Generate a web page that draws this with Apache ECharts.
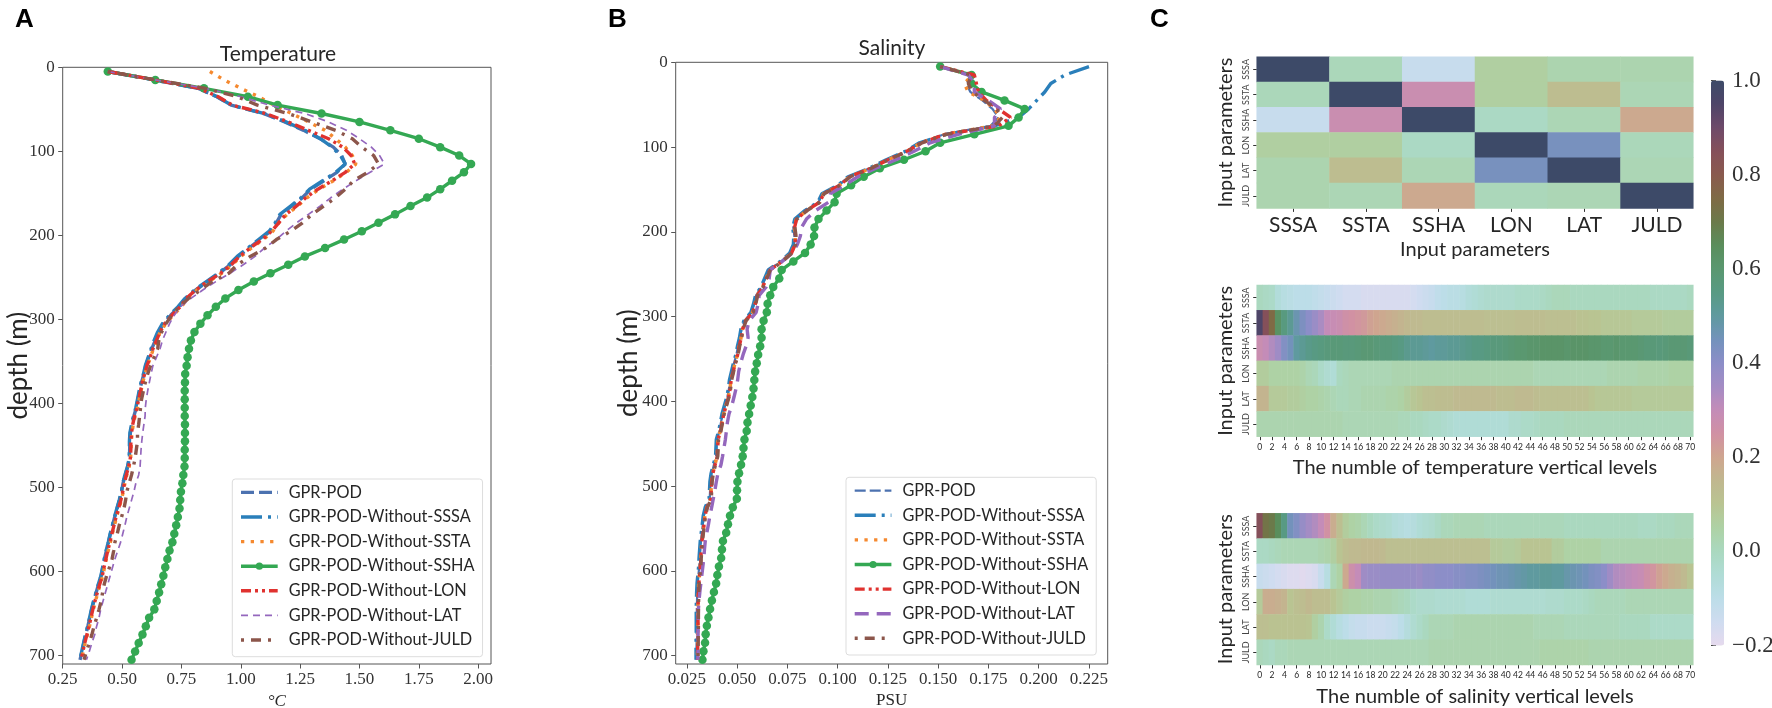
<!DOCTYPE html>
<html>
<head>
<meta charset="utf-8">
<style>html,body{margin:0;padding:0;background:#fff}#c{width:1772px;height:708px}</style>
<script src="https://cdn.jsdelivr.net/npm/echarts@6/dist/echarts.min.js"></script>
</head>
<body>
<div id="c"></div>
<script>
// ---- data ----
const seriesNames = ['GPR-POD','GPR-POD-Without-SSSA','GPR-POD-Without-SSTA','GPR-POD-Without-SSHA','GPR-POD-Without-LON','GPR-POD-Without-LAT','GPR-POD-Without-JULD'];
const depthLevels = [5,15,25,35,45,55,65,75,85,95,105,115,125,135,145,155,165,175,185,195,205,215,225,235,245,255,265,275,285,295,305,315,325,335,345,355,365,375,385,395,405,415,425,435,445,455,465,475,485,495,505,515,525,535,545,555,565,575,585,595,605,615,625,635,645,655,665,675,685,695,705];
const params = ['SSSA','SSTA','SSHA','LON','LAT','JULD'];
const levelLabels = [0,1,2,3,4,5,6,7,8,9,10,11,12,13,14,15,16,17,18,19,20,21,22,23,24,25,26,27,28,29,30,31,32,33,34,35,36,37,38,39,40,41,42,43,44,45,46,47,48,49,50,51,52,53,54,55,56,57,58,59,60,61,62,63,64,65,66,67,68,69,70];

const tempPOD  = [.44,.635,.82,.90,.96,1.095,1.185,1.265,1.335,1.39,1.425,1.44,1.405,1.35,1.295,1.26,1.215,1.17,1.15,1.125,1.08,1.035,.99,.955,.91,.86,.81,.77,.74,.705,.675,.655,.64,.625,.612,.6,.592,.582,.574,.567,.56,.55,.542,.535,.533,.532,.531,.524,.513,.504,.498,.489,.479,.469,.46,.451,.443,.434,.426,.419,.412,.401,.391,.381,.372,.364,.356,.347,.339,.331,.323];
const tempSSSA = [.44,.635,.82,.90,.96,1.10,1.19,1.27,1.335,1.385,1.42,1.44,1.40,1.345,1.29,1.255,1.21,1.165,1.145,1.12,1.075,1.03,.985,.95,.905,.855,.805,.765,.735,.70,.67,.65,.635,.622,.61,.598,.59,.58,.572,.565,.558,.548,.54,.533,.531,.531,.53,.523,.512,.503,.497,.488,.478,.468,.459,.45,.442,.433,.425,.418,.411,.40,.39,.38,.371,.363,.355,.346,.338,.33,.322];
const tempSSTA = [.87,.93,1.0,1.075,1.14,1.215,1.285,1.355,1.40,1.44,1.47,1.485,1.445,1.39,1.33,1.28,1.24,1.195,1.16,1.135,1.095,1.045,1.0,.965,.92,.865,.815,.775,.75,.715,.685,.66,.648,.632,.62,.607,.597,.587,.58,.572,.565,.555,.547,.542,.539,.538,.536,.53,.52,.512,.505,.497,.487,.477,.468,.459,.451,.442,.434,.426,.419,.408,.398,.388,.379,.371,.363,.354,.345,.337,.329];
const tempSSHA = [.44,.64,.845,1.03,1.155,1.34,1.50,1.63,1.75,1.84,1.92,1.97,1.94,1.89,1.84,1.785,1.715,1.65,1.58,1.51,1.435,1.355,1.27,1.20,1.125,1.055,.99,.935,.895,.86,.83,.805,.79,.782,.776,.772,.766,.765,.764,.764,.764,.764,.765,.765,.765,.764,.764,.763,.758,.754,.748,.745,.742,.735,.728,.72,.712,.70,.691,.682,.674,.665,.656,.646,.636,.614,.60,.586,.57,.555,.54];
const tempLON  = [.44,.64,.825,.905,.965,1.105,1.20,1.285,1.37,1.43,1.465,1.48,1.44,1.385,1.325,1.275,1.235,1.19,1.16,1.13,1.09,1.04,.995,.96,.915,.86,.81,.77,.745,.71,.68,.66,.645,.63,.618,.605,.595,.585,.578,.57,.563,.553,.545,.54,.537,.537,.535,.528,.518,.51,.503,.495,.485,.475,.466,.457,.449,.44,.432,.424,.417,.406,.396,.386,.377,.369,.361,.352,.343,.335,.327];
const tempLAT  = [.44,.64,.85,1.0,1.12,1.27,1.37,1.445,1.50,1.55,1.585,1.605,1.545,1.485,1.43,1.38,1.335,1.285,1.235,1.19,1.15,1.10,1.06,1.01,.955,.895,.84,.79,.745,.72,.70,.685,.67,.66,.645,.63,.622,.615,.608,.602,.598,.597,.592,.587,.583,.58,.578,.576,.57,.558,.55,.54,.53,.52,.512,.503,.494,.482,.47,.46,.45,.44,.43,.42,.41,.403,.393,.385,.373,.362,.35];
const tempJULD = [.44,.64,.85,.985,1.07,1.20,1.30,1.40,1.47,1.51,1.56,1.58,1.535,1.475,1.44,1.40,1.35,1.30,1.26,1.21,1.15,1.105,1.04,.985,.95,.88,.83,.78,.74,.71,.685,.667,.655,.65,.635,.62,.608,.598,.59,.582,.578,.574,.57,.565,.565,.56,.555,.548,.54,.53,.52,.515,.508,.498,.488,.48,.47,.465,.458,.447,.435,.425,.418,.412,.403,.393,.382,.373,.362,.35,.34];

const salPOD  = [.151,.1665,.164,.166,.172,.177,.18,.176,.153,.141,.134,.1245,.116,.1055,.1005,.0925,.0905,.084,.079,.078,.0785,.0783,.0765,.0718,.0658,.064,.0622,.0595,.0585,.0572,.0537,.0522,.0515,.0505,.0497,.0485,.0475,.0465,.046,.0452,.044,.0428,.042,.0412,.04,.0398,.0396,.0385,.0374,.0368,.0366,.0364,.0345,.0335,.033,.0325,.032,.0317,.0314,.0312,.0308,.0304,.0302,.0301,.03,.03,.03,.0299,.0299,.0298,.0298];
const salSSSA = [.225,.213,.206,.203,.199,.195,.19,.178,.154,.1407,.1337,.1242,.1157,.1052,.1002,.0922,.0902,.0837,.0787,.0777,.0782,.078,.0762,.0715,.0655,.0637,.0619,.0592,.0582,.0569,.0534,.0519,.0512,.0502,.0494,.0482,.0472,.0462,.0457,.0449,.0437,.0425,.0417,.0409,.0397,.0395,.0393,.0382,.0371,.0365,.0363,.0361,.0342,.0332,.0327,.0322,.0317,.0314,.0311,.0309,.0305,.0301,.0299,.0298,.0297,.0297,.0297,.0297,.0296,.0296,.0296];
const salSSTA = [.151,.167,.163,.165,.173,.178,.181,.177,.1535,.1415,.1345,.125,.1165,.106,.101,.093,.091,.0845,.0795,.0785,.079,.0788,.077,.0723,.0663,.0645,.0627,.06,.059,.0577,.0542,.0527,.052,.051,.0502,.049,.048,.047,.0465,.0457,.0445,.0433,.0425,.0417,.0405,.0403,.0401,.039,.0379,.0373,.0371,.0369,.035,.034,.0335,.033,.0325,.0322,.0319,.0317,.0313,.0309,.0307,.0306,.0305,.0305,.0305,.0304,.0304,.0303,.0303];
const salSSHA = [.151,.1666,.1666,.1716,.183,.193,.19,.185,.168,.151,.1437,.133,.121,.113,.1067,.0995,.0985,.0945,.0905,.0885,.0883,.0866,.0838,.078,.0722,.071,.068,.0665,.0652,.0648,.0632,.0622,.0622,.0615,.0605,.0598,.059,.0586,.0582,.0576,.0568,.056,.0552,.0548,.0537,.0532,.0528,.052,.051,.0502,.05,.0499,.0479,.0465,.0455,.0446,.043,.0425,.0421,.041,.0402,.0396,.0385,.0375,.0366,.0358,.035,.0344,.0341,.0333,.0328];
const salLON  = [.151,.168,.169,.17,.174,.18,.186,.18,.1536,.1416,.1346,.1251,.1166,.1061,.1011,.0931,.0911,.0846,.0796,.0786,.0791,.0789,.0771,.0724,.0664,.0646,.0628,.0601,.0591,.0578,.0543,.0528,.0521,.0511,.0503,.0491,.0481,.0471,.0466,.0458,.0446,.0434,.0426,.0418,.0406,.0404,.0402,.0391,.038,.0374,.0372,.037,.0351,.0341,.0336,.0331,.0326,.0323,.032,.0318,.0314,.031,.0308,.0307,.0306,.0306,.0306,.0305,.0305,.0304,.0304];
const salLAT  = [.151,.165,.168,.168,.175,.181,.178,.178,.16,.146,.138,.129,.119,.11,.1035,.0965,.0955,.089,.0845,.082,.0815,.08,.0775,.0725,.0665,.066,.0645,.061,.0605,.0595,.056,.055,.0555,.0545,.053,.0518,.0508,.0503,.0495,.0485,.0474,.046,.0452,.0447,.0442,.0435,.0428,.042,.0405,.0397,.039,.0382,.0374,.0365,.0358,.035,.0342,.0338,.0335,.033,.0325,.032,.0315,.0311,.0308,.0307,.0306,.0306,.0306,.0306,.0305];
const salJULD = [.151,.1665,.165,.167,.173,.179,.182,.178,.154,.142,.135,.1253,.1168,.1063,.1013,.0933,.0913,.0848,.0798,.0788,.0793,.0791,.0773,.0726,.0666,.0648,.063,.0603,.0593,.058,.0545,.053,.0523,.0513,.0505,.0493,.0483,.0473,.0468,.046,.0448,.0436,.0428,.042,.0408,.0406,.0404,.0393,.0382,.0376,.0374,.0372,.0353,.0343,.0338,.0333,.0328,.0325,.0322,.032,.0316,.0312,.031,.0309,.0308,.0308,.0308,.0307,.0307,.0306,.0306];

const corrSSSA = [1,.01,-.13,.06,.03,.03];
const corrSSTA = [.01,1,.28,.06,.13,.02];
const corrSSHA = [-.13,.28,1,-.01,.02,.19];
const corrLON  = [.06,.06,-.01,1,.44,.01];
const corrLAT  = [.03,.13,.02,.44,1,.02];
const corrJULD = [.03,.02,.19,.01,.02,1];

const tSSSA = [.0,-.01,-.02,-.06,-.08,-.09,-.10,-.10,-.10,-.11,-.12,-.13,-.14,-.15,-.16,-.16,-.16,-.17,-.17,-.17,-.17,-.17,-.17,-.17,-.17,-.16,-.15,-.14,-.13,-.11,-.10,-.09,-.09,-.08,-.06,-.05,-.04,-.03,-.03,-.03,-.03,-.03,-.02,-.02,-.02,-.02,-.01,.0,.01,.01,.01,.0,.0,.0,.0,.0,.0,.0,.0,.0,.0,.0,.0,.0,-.01,-.01,-.01,-.01,-.01,-.01,.0];
const tSSTA = [.95,.85,.75,.63,.56,.52,.47,.43,.40,.37,.34,.30,.29,.28,.26,.25,.24,.23,.21,.20,.19,.18,.17,.16,.15,.14,.14,.13,.13,.13,.13,.13,.13,.13,.13,.13,.13,.12,.12,.12,.12,.12,.13,.13,.13,.13,.13,.12,.12,.12,.12,.12,.11,.11,.10,.10,.09,.09,.09,.09,.09,.08,.08,.08,.08,.08,.07,.07,.07,.07,.07];
const tSSHA = [.28,.30,.33,.36,.42,.45,.50,.52,.54,.55,.56,.57,.58,.58,.57,.57,.58,.59,.59,.58,.57,.57,.56,.55,.53,.52,.52,.51,.50,.51,.51,.52,.52,.53,.54,.55,.55,.56,.57,.57,.58,.59,.60,.60,.61,.61,.62,.62,.62,.62,.61,.62,.62,.62,.61,.61,.60,.60,.61,.60,.60,.60,.59,.58,.58,.57,.58,.59,.59,.59,.58];
const tLON  = [.07,.07,.05,.05,.05,.05,.05,.04,.02,.01,-.02,-.04,-.05,.0,.01,.02,.02,.02,.02,.02,.02,.02,.03,.03,.03,.03,.03,.03,.03,.03,.03,.03,.03,.03,.03,.03,.03,.03,.03,.03,.03,.03,.03,.03,.03,.02,.02,.02,.02,.02,.02,.02,.02,.02,.02,.02,.02,.03,.03,.03,.03,.03,.04,.04,.04,.04,.04,.05,.05,.05,.05];
const tLAT  = [.16,.16,.08,.08,.08,.07,.07,.06,.05,.05,.04,.03,.02,.01,.01,.02,.02,.03,.03,.03,.03,.04,.04,.05,.07,.09,.10,.12,.12,.13,.13,.13,.14,.14,.14,.14,.14,.14,.14,.13,.13,.13,.14,.14,.14,.13,.12,.12,.12,.12,.12,.12,.12,.12,.10,.09,.09,.09,.09,.09,.09,.08,.08,.08,.08,.08,.08,.08,.08,.08,.08];
const tJULD = [.03,.03,.03,.03,.03,.03,.03,.03,.03,.03,.03,.03,.03,.03,.02,.02,.02,.02,.02,.02,.02,.02,.02,.01,.01,.0,.0,-.01,-.02,-.02,-.03,-.04,-.05,-.05,-.05,-.05,-.05,-.05,-.05,-.05,-.05,-.03,-.03,-.02,-.02,-.01,.0,.0,.0,.0,.01,.01,.01,.01,.01,.01,.01,.01,.01,.01,.01,.01,.01,.01,.01,.01,.01,.01,.01,.01,.01];

const sSSSA = [.85,.72,.70,.65,.55,.45,.42,.38,.35,.33,.30,.25,.18,.12,.07,.05,.04,.02,.0,-.02,-.03,-.04,-.06,-.07,-.08,-.07,-.05,-.04,-.03,-.01,.01,.01,.02,.02,.02,.02,.02,.01,.01,.01,.01,.01,.01,.01,.01,.01,.01,.01,.01,.01,.0,.0,.0,.0,.0,.0,.0,.0,.0,.0,.0,.0,-.01,-.01,-.01,.0,.0,.0,.01,.01,.01];
const sSSTA = [-.01,-.01,.0,.01,.02,.02,.02,.02,.02,.02,.03,.04,.06,.10,.13,.14,.14,.15,.15,.15,.14,.12,.12,.12,.12,.12,.12,.12,.12,.12,.12,.12,.12,.12,.12,.12,.12,.12,.08,.08,.07,.07,.08,.10,.10,.10,.10,.10,.07,.07,.05,.05,.05,.05,.05,.05,.03,.03,.03,.03,.03,.03,.03,.03,.03,.03,.03,.03,.03,.03,.03];
const sSSHA = [-.13,-.14,-.15,-.16,-.17,-.18,-.18,-.19,-.18,-.17,-.13,-.08,.02,.05,.19,.27,.30,.36,.37,.37,.38,.38,.38,.38,.38,.38,.37,.39,.39,.40,.40,.40,.41,.41,.42,.42,.43,.44,.45,.46,.46,.47,.48,.49,.50,.50,.51,.51,.50,.50,.48,.47,.46,.45,.43,.42,.40,.36,.33,.32,.31,.30,.29,.26,.24,.21,.19,.17,.16,.14,.10];
const sLON  = [.08,.18,.18,.17,.16,.10,.12,.13,.15,.13,.13,.13,.10,.08,.06,.05,.05,.04,.04,.03,.03,.03,.02,.01,.0,-.02,-.03,-.03,-.03,-.04,-.04,-.04,-.04,-.04,-.05,-.05,-.05,-.05,-.04,-.04,-.04,-.04,-.04,-.04,-.04,-.04,-.04,-.03,-.03,-.03,-.02,-.02,-.02,-.01,.0,.01,.01,.01,.01,.01,.02,.02,.02,.02,.02,.02,.02,.02,.02,.02,.02];
const sLAT  = [.12,.12,.11,.11,.11,.11,.11,.11,.10,.06,.03,-.02,-.05,-.08,-.10,-.12,-.13,-.13,-.14,-.14,-.14,-.13,-.12,-.10,-.07,-.04,-.02,.0,.02,.02,.02,.02,.03,.03,.03,.03,.03,.03,.03,.03,.03,.03,.03,.03,.03,.02,.02,.02,.02,.02,.01,.01,.01,.01,.01,.01,.01,.01,.01,.0,.0,.0,.0,.0,-.02,-.02,-.02,-.02,-.02,-.02,-.02];
const sJULD = [.01,.0,-.01,.01,.01,.02,.02,.02,.02,.02,.02,.02,.02,.02,.02,.02,.02,.02,.02,.02,.02,.02,.02,.02,.02,.02,.02,.02,.03,.03,.03,.03,.03,.03,.03,.03,.03,.03,.03,.03,.03,.03,.03,.03,.03,.03,.04,.04,.04,.04,.04,.04,.04,.04,.03,.03,.03,.03,.03,.03,.03,.03,.03,.03,.03,.03,.03,.03,.03,.03,.03];

const colorStops = ['#e6daee','#cfdcf0','#bcdde8','#b0dcd6','#aad8bf','#aed2a5','#b9c492','#c0b88f','#cfa58f','#d191a3','#c48cb8','#a48cc4','#8c8ec8','#7392bb','#5f9a9f','#589a83','#5a9870','#5a8e5c','#6b7a4a','#7f6a45','#8a5a4e','#85505a','#6e4a6a','#4e4568','#3d4a68'];

// ---- chart ----
const tempTicks = [.25,.5,.75,1,1.25,1.5,1.75,2];
const salTicks = [.025,.05,.075,.1,.125,.15,.175,.2,.225];
const depthTicks = [0,100,200,300,400,500,600,700];
const serif = '"Liberation Serif"';
const sans = 'Lato';
const ink = '#262626';

const stylesT = [
 {color:'#4c72b0',width:3.4,type:[13,5]},
 {color:'#2a7fba',width:3.4,type:[21,6,3,6]},
 {color:'#f5892f',width:3.4,type:[3.3,6.4]},
 {color:'#34a853',width:3.4,type:'solid'},
 {color:'#e0322f',width:3.4,type:[10,4,3,4,3,4]},
 {color:'#9467bd',width:1.7,type:[7,5]},
 {color:'#8c564b',width:3.4,type:[3,7,10,7]}
];
const stylesS = [
 {color:'#4c72b0',width:2.2,type:[11,4]},
 {color:'#2a7fba',width:3.4,type:[21,6,3,6]},
 {color:'#f5892f',width:3.4,type:[3.3,6.4]},
 {color:'#34a853',width:3.4,type:'solid'},
 {color:'#e0322f',width:3.4,type:[10,4,3,4,3,4]},
 {color:'#9467bd',width:3.4,type:[14,8]},
 {color:'#8c564b',width:3.4,type:[3,7,10,7]}
];
const tempData = [tempPOD,tempSSSA,tempSSTA,tempSSHA,tempLON,tempLAT,tempJULD];
const salData = [salPOD,salSSSA,salSSTA,salSSHA,salLON,salLAT,salJULD];

function lineSeries(data, styles, axis){
  return data.map((vals,i)=>({
    type:'line', name:seriesNames[i], xAxisIndex:axis, yAxisIndex:axis,
    data:vals.map((v,k)=>[v,depthLevels[k]]),
    lineStyle:styles[i], itemStyle:{color:styles[i].color},
    symbol:i===3?'circle':'none', symbolSize:8.5, showSymbol:i===3,
    smooth:false, z:2+i, silent:true
  }));
}
function heatSeries(rows, axis){
  const d=[];
  rows.forEach((r,y)=>r.forEach((v,x)=>d.push([x,y,v])));
  return {type:'heatmap',xAxisIndex:axis,yAxisIndex:axis,data:d,silent:true,itemStyle:{borderWidth:0},progressive:0,z:2};
}
function legend(styles, left, top){
  return {
    orient:'vertical', left, top, padding:[4.4,8,7.7,7], itemWidth:36.7, itemHeight:9, itemGap:6.6,
    backgroundColor:'#fff', borderColor:'#ddd', borderWidth:1, borderRadius:3,
    selectedMode:false, textStyle:{fontFamily:sans,fontSize:16.3,lineHeight:18,color:ink,padding:[0,0,0,6]},
    data:seriesNames.map((n,i)=>({name:n,lineStyle:styles[i],itemStyle:{color:styles[i].color,opacity:i===3?1:0}}))
  };
}
function lineX(min,max,ticks,fmt,name,gap,grid){
  return {type:'value',gridIndex:grid,min,max,position:'bottom',name,nameLocation:'middle',nameGap:gap,nameMoveOverlap:false,
    nameTextStyle:{fontFamily:serif,fontSize:17,color:ink,fontStyle:grid===0?'italic':'normal'},
    splitLine:{show:false},axisLine:{show:false,onZero:false},
    axisTick:{show:true,length:4.5,customValues:ticks,lineStyle:{color:'#555'}},
    axisLabel:{customValues:ticks,formatter:v=>v.toFixed(fmt),fontFamily:serif,fontSize:17,color:'#333',margin:7}};
}
function lineY(grid,gap){
  return {type:'value',gridIndex:grid,inverse:true,min:0,max:710,position:'left',name:'depth (m)',nameLocation:'middle',nameGap:gap,nameRotate:90,nameMoveOverlap:false,
    nameTextStyle:{fontFamily:sans,fontSize:26,color:ink},
    splitLine:{show:false},axisLine:{show:false,onZero:false},
    axisTick:{show:true,length:4.5,customValues:depthTicks,lineStyle:{color:'#555'}},
    axisLabel:{customValues:depthTicks,fontFamily:serif,fontSize:17,color:'#333',margin:8}};
}
function heatX(cats,grid,name,gap,size,interval){
  return {type:'category',gridIndex:grid,data:cats,position:'bottom',name,nameLocation:'middle',nameGap:gap,nameMoveOverlap:false,
    nameTextStyle:{fontFamily:sans,fontSize:20,color:ink},
    axisLine:{show:false},splitLine:{show:false},
    axisTick:{show:true,alignWithLabel:true,interval,length:3.5,lineStyle:{color:'#333'}},
    axisLabel:{interval,fontFamily:sans,fontSize:size,color:ink,margin:6,hideOverlap:false}};
}
function heatY(grid){
  return {type:'category',gridIndex:grid,data:params,inverse:true,position:'left',name:'Input parameters',nameLocation:'middle',nameGap:21.5,nameRotate:90,nameMoveOverlap:false,
    nameTextStyle:{fontFamily:sans,fontSize:20,color:ink},
    axisLine:{show:false},splitLine:{show:false},
    axisTick:{show:true,alignWithLabel:true,length:3.5,lineStyle:{color:'#333'}},
    axisLabel:{rotate:90,fontFamily:sans,fontSize:9,color:'#444',margin:6,interval:0,hideOverlap:false}};
}

const gridA={left:62.7,top:67.3,width:428.3,height:596.7,show:true,borderColor:'#555',borderWidth:1,outerBoundsMode:'none'};
const gridB={left:675.7,top:62.3,width:432,height:601.7,show:true,borderColor:'#555',borderWidth:1,outerBoundsMode:'none'};
const heatGrid=(top)=>({left:1256.7,top,width:436.6,height:151.7,outerBoundsMode:'none'});
const barBox={left:1711,top:80.5,width:13,height:565};

const letter={fontFamily:'"Liberation Sans"',fontWeight:'bold',fontSize:26,color:'#000'};
const titleText={fontFamily:sans,fontWeight:'normal',fontSize:21,color:ink};
const option={
  animation:false, backgroundColor:'#fff',
  title:[
    {text:'A',left:10,top:2,textStyle:letter},
    {text:'B',left:603,top:2,textStyle:letter},
    {text:'C',left:1145,top:2,textStyle:letter},
    {text:'Temperature',left:273,top:39,textAlign:'center',textStyle:titleText},
    {text:'Salinity',left:887,top:33,textAlign:'center',textStyle:titleText}
  ],
  grid:[gridA,gridB,heatGrid(56.7),heatGrid(285),heatGrid(513.3),{...barBox,outerBoundsMode:'none'}],
  xAxis:[
    lineX(.25,2.054,tempTicks,2,'\u00B0C',29,0),
    lineX(.0195,.2343,salTicks,3,'PSU',28,1),
    heatX(params,2,'Input parameters',31.5,21,0),
    heatX(levelLabels,3,'The numble of temperature vertical levels',21,8.5,1),
    heatX(levelLabels,4,'The numble of salinity vertical levels',22,8.5,1),
    {type:'value',gridIndex:5,show:false,min:0,max:1}
  ],
  yAxis:[
    lineY(0,31), lineY(1,34), heatY(2), heatY(3), heatY(4),
    {type:'value',gridIndex:5,position:'right',min:-.2,max:1,interval:.2,splitLine:{show:false},axisLine:{show:false},
     axisTick:{show:true,length:5,lineStyle:{color:'#444'}},
     axisLabel:{formatter:v=>(v<-0.001?'\u2212':'')+Math.abs(v).toFixed(1),fontFamily:serif,fontSize:23,color:'#333',margin:8}}
  ],
  legend:[legend(stylesT,232.3,479),legend(stylesS,846,477.3)],
  visualMap:{type:'continuous',min:-.2,max:1,seriesIndex:[14,15,16],left:barBox.left,top:barBox.top,itemWidth:barBox.width,itemHeight:barBox.height,padding:0,
    text:null,calculable:false,realtime:false,hoverLink:false,inRange:{color:colorStops,symbolSize:[barBox.width,barBox.width]},borderWidth:0,showLabel:false},
  series:[
    ...lineSeries(tempData,stylesT,0),
    ...lineSeries(salData,stylesS,1),
    heatSeries([corrSSSA,corrSSTA,corrSSHA,corrLON,corrLAT,corrJULD],2),
    heatSeries([tSSSA,tSSTA,tSSHA,tLON,tLAT,tJULD],3),
    heatSeries([sSSSA,sSSTA,sSSHA,sLON,sLAT,sJULD],4)
  ]
};
const chart=echarts.init(document.getElementById('c'),null,{renderer:'canvas'});
chart.setOption(option);
</script>
</body>
</html>
